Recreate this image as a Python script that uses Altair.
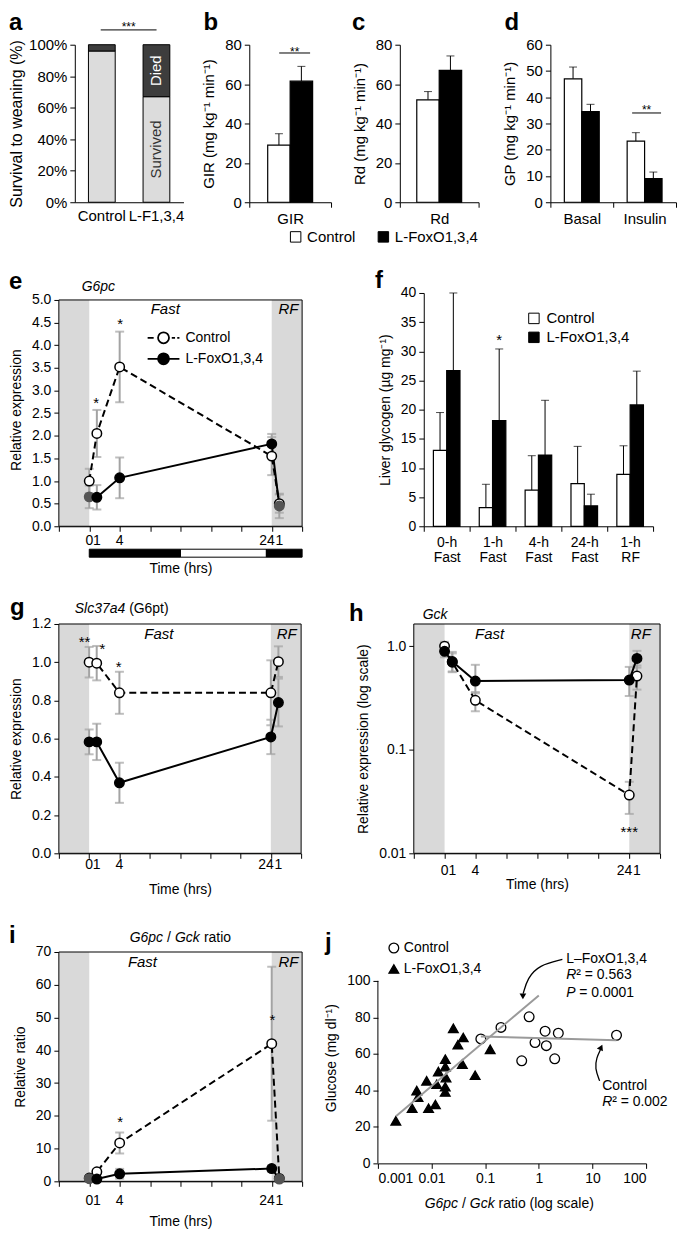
import altair as alt
import pandas as pd

FONT = "Liberation Sans"
SHADE = "#d9d9d9"
ERR = "#a3a3a3"
FIT = "#9a9a9a"

# ---------------- data ----------------
series_names = ["Control", "L-FoxO1,3,4"]

# (a) survival to weaning
a_genotypes = ["Control", "L-F1,3,4"]
a_survived = [0.96, 0.67]

# (b) GIR, (c) Rd
gir_cats = ["GIR"]
gir_ctrl, gir_ctrl_sem = [29.0], [5.8]
gir_lfox, gir_lfox_sem = [61.5], [7.5]
rd_cats = ["Rd"]
rd_ctrl, rd_ctrl_sem = [52.0], [4.2]
rd_lfox, rd_lfox_sem = [67.0], [7.3]

# (d) GP
gp_states = ["Basal", "Insulin"]
gp_ctrl = [47.0, 23.3]
gp_ctrl_sem = [4.5, 3.2]
gp_lfox = [34.5, 9.0]
gp_lfox_sem = [2.8, 2.5]

# time axis shared by e, g, h, i
time_hours = [0, 1, 4, 24, 25]
time_labels = ["0", "1", "4", "24", "1"]
time_ticks = [-4, 0, 4, 8, 12, 16, 20, 24, 28]
shade_from = [-4, 24]
shade_to = [0, 28]
cycle_from = [0, 12, 23.3]
cycle_to = [12, 23.3, 28]
cycle_phase = ["dark", "light", "dark"]

# (e) G6pc
g6pc_ctrl = [1.00, 2.05, 3.52, 1.55, 0.50]
g6pc_ctrl_sem = [0.27, 0.52, 0.78, 0.42, 0.20]
g6pc_lfox = [0.65, 0.64, 1.07, 1.82, 0.45]
g6pc_lfox_sem = [0.25, 0.27, 0.45, 0.22, 0.27]

# (f) liver glycogen
glyc_times = ["0-h Fast", "1-h Fast", "4-h Fast", "24-h Fast", "1-h RF"]
glyc_ctrl = [13.0, 3.2, 6.2, 7.3, 8.9]
glyc_ctrl_sd = [6.5, 4.0, 5.9, 6.4, 4.9]
glyc_lfox = [26.7, 18.1, 12.2, 3.5, 20.8]
glyc_lfox_sd = [13.3, 12.3, 9.4, 2.0, 5.8]

# (g) Slc37a4
slc_ctrl = [1.00, 0.995, 0.84, 0.84, 1.003]
slc_ctrl_sem = [0.08, 0.09, 0.11, 0.17, 0.08]
slc_lfox = [0.583, 0.583, 0.369, 0.609, 0.789]
slc_lfox_sem = [0.065, 0.095, 0.105, 0.09, 0.125]

# (h) Gck (log)
gck_ctrl = [1.00, 0.70, 0.30, 0.0365, 0.514]
gck_ctrl_lo = [0.88, 0.56, 0.235, 0.024, 0.38]
gck_ctrl_hi = [1.10, 0.85, 0.36, 0.049, 0.65]
gck_lfox = [0.89, 0.71, 0.46, 0.47, 0.76]
gck_lfox_lo = [0.78, 0.57, 0.35, 0.33, 0.62]
gck_lfox_hi = [1.00, 0.88, 0.66, 0.63, 0.90]

# (i) G6pc / Gck ratio
ratio_ctrl = [1.0, 2.9, 11.7, 42.0, 0.9]
ratio_ctrl_sem = [0.4, 0.8, 3.2, 23.5, 0.3]
ratio_lfox = [0.8, 0.7, 2.3, 3.9, 0.7]
ratio_lfox_sem = [0.3, 0.3, 1.5, 1.0, 0.3]

# (j) glucose vs ratio
j_ctrl_ratio = [0.083, 0.197, 0.66, 0.48, 0.85, 1.31, 1.38, 2.31, 1.98, 28.1]
j_ctrl_glucose = [68.2, 74.5, 80.3, 56.2, 66.2, 72.4, 64.5, 71.3, 57.3, 70.2]
j_lfox_ratio = [0.00216, 0.00435, 0.0053, 0.0056, 0.0081, 0.0088, 0.0118, 0.0125, 0.0134, 0.0181,
                0.0181, 0.0186, 0.018, 0.018, 0.0255, 0.031, 0.039, 0.0375, 0.065, 0.124]
j_lfox_glucose = [23.3, 30.2, 39.9, 36.3, 45.2, 30.2, 32.3, 43.4, 50.3, 57.1,
                  53.0, 47.0, 42.0, 39.1, 74.0, 65.0, 69.0, 54.4, 48.3, 62.5]
fit_lfox_x = [0.0022, 1.0]
fit_lfox_y = [26.0, 92.0]
fit_ctrl_x = [0.083, 28.0]
fit_ctrl_y = [69.5, 67.5]

# ---------------- helpers ----------------
ONE = pd.DataFrame({"k": [0]})


def V(v):
    return alt.value(v)


def XD(v):
    return alt.XDatum(v)


def YD(v):
    return alt.YDatum(v)


def note(text, x, y, size=14, style="normal", weight="normal", align="left",
         baseline="alphabetic", color="black", dx=0, dy=0):
    return alt.Chart(ONE).mark_text(
        text=text, font=FONT, fontSize=size, fontStyle=style, fontWeight=weight,
        align=align, baseline=baseline, color=color, dx=dx, dy=dy
    ).encode(x=x, y=y)


def letter(ch, x, y):
    return note(ch, V(x), V(y), size=24, weight="bold")


def hsp(w):
    return alt.Chart(ONE).mark_rect(opacity=0).encode(
        x=V(0), x2=V(w), y=V(0), y2=V(1)).properties(width=w, height=1)


def vsp(h):
    return alt.Chart(ONE).mark_rect(opacity=0).encode(
        x=V(0), x2=V(1), y=V(0), y2=V(h)).properties(width=1, height=h)


# ---------------- panel a ----------------
H1 = 158
W_A = 109
a_rows = []
for g, s in zip(a_genotypes, a_survived):
    a_rows.append({"grp": g, "part": "Survived", "y0": 0.0, "y1": s})
    a_rows.append({"grp": g, "part": "Died", "y0": s, "y1": 1.0})
a_df = pd.DataFrame(a_rows)
a_df["mid"] = (a_df["y0"] + a_df["y1"]) / 2
a_x = alt.X("grp:N", sort=a_genotypes, title=None,
            scale=alt.Scale(paddingInner=0.51, paddingOuter=0.25),
            axis=alt.Axis(ticks=False, labelAngle=0, labelFontSize=15, labelPadding=6))
a_yvals = [0, 0.2, 0.4, 0.6, 0.8, 1.0]
a_bars = alt.Chart(a_df).mark_bar(stroke="black", strokeWidth=1).encode(
    x=a_x,
    y=alt.Y("y0:Q", scale=alt.Scale(domain=[0, 1], nice=False),
            axis=alt.Axis(values=a_yvals, tickCount=len(a_yvals), format=".0%",
                          title="Survival to weaning (%)", titleFontSize=16,
                          labelFontSize=15, titlePadding=4, labelOverlap=False)),
    y2="y1:Q",
    fill=alt.Fill("part:N", scale=alt.Scale(domain=["Survived", "Died"],
                                            range=["#dcdcdc", "#3d3d3d"]), legend=None),
)
a_text = alt.Chart(a_df[a_df["grp"] == a_genotypes[1]]).mark_text(
    angle=270, fontSize=15, font=FONT).encode(
    x=a_x, y=alt.Y("mid:Q", title="Survival to weaning (%)"), text="part:N",
    color=alt.Color("part:N", scale=alt.Scale(domain=["Survived", "Died"],
                                              range=["#333333", "#ffffff"]), legend=None))
a_brk = alt.Chart(ONE).mark_rule(color="black", strokeWidth=1).encode(x=V(26), x2=V(82), y=YD(1.094))
a_star = note("***", V(54), YD(1.13), size=12, align="center", baseline="middle", dy=3)
panel_a = alt.layer(a_bars, a_text, a_brk, a_star, letter("a", -66, -15)).properties(width=W_A, height=H1)


# ---------------- bar panels b, c, d, f ----------------
def bar_panel(cats, cm, ce, lm, le, W, H, ymax, ystep, ytitle, po, legend=None, fs=15,
              label_expr=None):
    rows = []
    for c, m, e in zip(cats, cm, ce):
        rows.append({"cat": c, "series": series_names[0], "mean": m, "top": m + e})
    for c, m, e in zip(cats, lm, le):
        rows.append({"cat": c, "series": series_names[1], "mean": m, "top": m + e})
    df = pd.DataFrame(rows)
    xax = dict(tickBand="extent", labelAngle=0, labelFontSize=fs, labelPadding=4, tickSize=5)
    if label_expr:
        xax["labelExpr"] = label_expr
        xax["labelLineHeight"] = fs + 1
    x = alt.X("cat:N", sort=cats, title=None, scale=alt.Scale(paddingInner=0, paddingOuter=0),
              axis=alt.Axis(**xax))
    xo = alt.XOffset("series:N", sort=series_names, scale=alt.Scale(paddingInner=0, paddingOuter=po))
    yvals = list(range(0, ymax + 1, ystep))
    yax = alt.Axis(values=yvals, tickCount=len(yvals), title=ytitle, labelFontSize=fs,
                   titleFontSize=fs, titlePadding=8, labelOverlap=False)
    bars = alt.Chart(df).mark_bar(stroke="black", strokeWidth=1.2).encode(
        x=x, xOffset=xo,
        y=alt.Y("mean:Q", scale=alt.Scale(domain=[0, ymax], nice=False), axis=yax),
        color=alt.Color("series:N", sort=series_names,
                        scale=alt.Scale(domain=series_names, range=["white", "black"]), legend=legend))
    err = alt.Chart(df).mark_rule(color="black", strokeWidth=1).encode(
        x=x, xOffset=xo, y=alt.Y("mean:Q", title=ytitle), y2="top:Q")
    cap = alt.Chart(df).mark_tick(color="black", thickness=1, size=8).encode(
        x=x, xOffset=xo, y=alt.Y("top:Q", title=ytitle))
    return [err, cap, bars], x, xo


b_layers, _, _ = bar_panel(gir_cats, gir_ctrl, gir_ctrl_sem, gir_lfox, gir_lfox_sem,
                           82, H1, 80, 20, "GIR (mg kg⁻¹ min⁻¹)", 0.82)
panel_b = alt.layer(
    *b_layers,
    alt.Chart(ONE).mark_rule(color="black").encode(x=V(30), x2=V(61), y=YD(75.8)),
    note("**", V(45.5), YD(77.8), size=12, align="center", baseline="middle", dy=3),
    letter("b", -46, -15),
).properties(width=82, height=H1)

legend_c = alt.Legend(orient="none", legendX=-112, legendY=H1 + 27, direction="horizontal",
                      columns=2, title=None, symbolType="square", symbolSize=110,
                      symbolStrokeColor="black", symbolStrokeWidth=1, labelFontSize=15,
                      columnPadding=20, labelOffset=4)
c_layers, _, _ = bar_panel(rd_cats, rd_ctrl, rd_ctrl_sem, rd_lfox, rd_lfox_sem,
                           79, H1, 80, 20, "Rd (mg kg⁻¹ min⁻¹)", 0.755, legend=legend_c)
panel_c = alt.layer(*c_layers, letter("c", -48, -15)).properties(width=79, height=H1)

d_layers, _, _ = bar_panel(gp_states, gp_ctrl, gp_ctrl_sem, gp_lfox, gp_lfox_sem,
                           126, H1, 60, 10, "GP (mg kg⁻¹ min⁻¹)", 0.8)
panel_d = alt.layer(
    *d_layers,
    alt.Chart(ONE).mark_rule(color="black").encode(x=V(82), x2=V(111), y=YD(34.0)),
    note("**", V(96.5), YD(36.3), size=12, align="center", baseline="middle", dy=3),
    letter("d", -46, -15),
).properties(width=126, height=H1)

H2 = 234
legend_f = alt.Legend(orient="none", legendX=103, legendY=18, title=None, symbolType="square",
                      symbolSize=110, symbolStrokeColor="black", symbolStrokeWidth=1,
                      labelFontSize=15, rowPadding=3, labelOffset=5)
f_layers, f_x, f_xo = bar_panel(glyc_times, glyc_ctrl, glyc_ctrl_sd, glyc_lfox, glyc_lfox_sd,
                                230, H2, 40, 5, "Liver glycogen (µg mg⁻¹)", 0.725, legend=legend_f,
                                fs=14, label_expr="split(datum.label, ' ')")
f_star_df = pd.DataFrame({"cat": ["1-h Fast"], "series": [series_names[1]], "y": [32.4]})
f_star = alt.Chart(f_star_df).mark_text(text="*", font=FONT, fontSize=15, baseline="middle", dy=3).encode(
    x=f_x, xOffset=f_xo, y=alt.Y("y:Q", title="Liver glycogen (µg mg⁻¹)"))
panel_f = alt.layer(*f_layers, f_star, letter("f", -49, -5)).properties(width=230, height=H2)

# ---------------- time-course panels ----------------
PATH_CTRL = ("M-2.9,0L-1.8,0M1.5,0L2.1,0M2.5,0L2.9,0"
             "M1,0A1,1,0,1,1,-1,0A1,1,0,1,1,1,0Z")
PATH_LFOX = "M-2.9,0L-1,0M1,0L2.9,0M1,0A1,1,0,1,1,-1,0A1,1,0,1,1,1,0Z"


def time_panel(W, H, ydom, frame_top, ylog, yvals, ytitle, c_v, c_lo, c_hi, l_v, l_lo, l_hi,
               stars, fast_at, rf_at, let, let_at, heading, label_off, xtitle_pad,
               yfmt=None, ylabelexpr=None, legend=False, cycle=False, gray_ends=False):
    xs = alt.Scale(domain=[-4, 28], nice=False, zero=False)
    if ylog:
        ys = alt.Scale(type="log", domain=ydom, nice=False)
    else:
        ys = alt.Scale(domain=ydom, nice=False, zero=False)
    yax = dict(values=yvals, tickCount=len(yvals), domain=False, title=ytitle, titlePadding=8,
               labelOverlap=False)
    if yfmt:
        yax["format"] = yfmt
    if ylabelexpr:
        yax["labelExpr"] = ylabelexpr
    XT = "Time (hrs)"
    shade_df = pd.DataFrame({"x0": shade_from, "x1": shade_to,
                             "y0": [ydom[0]] * len(shade_from), "y1": [frame_top] * len(shade_from)})
    layers = [alt.Chart(shade_df).mark_rect(fill=SHADE).encode(
        x=alt.X("x0:Q", scale=xs, axis=alt.Axis(values=time_ticks, tickCount=len(time_ticks), labels=False,
                                                title=XT, titlePadding=xtitle_pad, tickSize=5)),
        x2="x1:Q",
        y=alt.Y("y0:Q", scale=ys, axis=alt.Axis(**yax)),
        y2="y1:Q")]
    frame_df = pd.DataFrame({"x0": [-4], "x1": [28], "y0": [ydom[0]], "y1": [frame_top]})
    layers.append(alt.Chart(frame_df).mark_rect(fillOpacity=0, stroke="black", strokeWidth=1).encode(
        x=alt.X("x0:Q", title=XT), x2="x1:Q", y=alt.Y("y0:Q", title=ytitle), y2="y1:Q"))
    cdf = pd.DataFrame({"t": time_hours, "v": c_v, "lo": c_lo, "hi": c_hi})
    ldf = pd.DataFrame({"t": time_hours, "v": l_v, "lo": l_lo, "hi": l_hi})
    both = pd.concat([cdf, ldf], ignore_index=True)
    X = alt.X("t:Q", title=XT)
    Y = alt.Y("v:Q", title=ytitle)
    layers.append(alt.Chart(both).mark_errorbar(ticks=True, size=9, thickness=2, color=ERR).encode(
        x=X, y=alt.Y("lo:Q", title=ytitle), y2="hi:Q"))
    layers.append(alt.Chart(cdf).mark_line(color="black", strokeWidth=2, strokeDash=[7, 4]).encode(x=X, y=Y))
    layers.append(alt.Chart(ldf).mark_line(color="black", strokeWidth=2).encode(x=X, y=Y))
    layers.append(alt.Chart(cdf).mark_point(shape="circle", filled=True, fill="white", stroke="black",
                                            strokeWidth=1.5, size=90, opacity=1).encode(x=X, y=Y))
    if gray_ends:
        tone = alt.condition("datum.t <= 0 || datum.t >= 25", alt.value("#555555"), alt.value("black"))
        layers.append(alt.Chart(ldf).mark_point(shape="circle", filled=True, strokeWidth=1.5, size=90,
                                                opacity=1).encode(x=X, y=Y, fill=tone, stroke=tone))
    else:
        layers.append(alt.Chart(ldf).mark_point(shape="circle", filled=True, fill="black", stroke="black",
                                                strokeWidth=1.5, size=90, opacity=1).encode(x=X, y=Y))
    sdf = pd.DataFrame({"t": [s[0] for s in stars], "y": [s[1] for s in stars], "s": [s[2] for s in stars]})
    layers.append(alt.Chart(sdf).mark_text(font=FONT, fontSize=15, baseline="middle", dy=3).encode(
        x=X, y=alt.Y("y:Q", title=ytitle), text="s:N"))
    layers.append(note("Fast", XD(fast_at[0]), YD(fast_at[1]), size=15, style="italic",
                       align="center", baseline="middle"))
    layers.append(note("RF", XD(rf_at[0]), YD(rf_at[1]), size=15, style="italic",
                       align="center", baseline="middle"))
    xl = pd.DataFrame({"t": time_hours, "lab": time_labels})
    layers.append(alt.Chart(xl).transform_filter("datum.lab != '24'").mark_text(
        font=FONT, fontSize=14, baseline="alphabetic").encode(x=X, y=V(H + label_off), text="lab:N"))
    layers.append(alt.Chart(xl).transform_filter("datum.lab == '24'").mark_text(
        font=FONT, fontSize=14, baseline="alphabetic", align="right", dx=3).encode(
        x=X, y=V(H + label_off), text="lab:N"))
    layers.append(letter(let, let_at[0], let_at[1]))
    for (tx, xp, yp, st) in heading:
        layers.append(note(tx, V(xp), V(yp), size=14, style=st))
    if cycle:
        cyc = pd.DataFrame({"x0": cycle_from, "x1": cycle_to, "phase": cycle_phase})
        layers.append(alt.Chart(cyc).mark_rect(stroke="black", strokeWidth=1).encode(
            x=alt.X("x0:Q", title=XT), x2="x1:Q", y=V(H + 23), y2=V(H + 31),
            color=alt.Color("phase:N", scale=alt.Scale(domain=["dark", "light"], range=["black", "white"]),
                            legend=None)))
    if legend:
        leg = alt.Legend(orient="none", legendX=98, legendY=38, title=None, symbolSize=121,
                         symbolStrokeColor="black", symbolStrokeWidth=1.8, labelFontSize=14,
                         labelOffset=15, rowPadding=1)
        ldf2 = pd.DataFrame({"series": series_names, "t": [0, 0], "v": [1, 1]})
        layers.append(alt.Chart(ldf2).transform_filter("false").mark_point(
            filled=True, strokeWidth=1.8, size=121, opacity=1).encode(
            x=X, y=Y,
            shape=alt.Shape("series:N", sort=series_names,
                            scale=alt.Scale(domain=series_names, range=[PATH_CTRL, PATH_LFOX]), legend=leg),
            fill=alt.Fill("series:N", sort=series_names,
                          scale=alt.Scale(domain=series_names, range=["white", "black"]), legend=leg),
            stroke=alt.Stroke("series:N", sort=series_names,
                              scale=alt.Scale(domain=series_names, range=["black", "black"]), legend=leg)))
    return alt.layer(*layers).properties(width=W, height=H)


def lohi(v, e):
    return [a - b for a, b in zip(v, e)], [a + b for a, b in zip(v, e)]


E_TOP = 5.0 * H2 / 227.0
c_lo, c_hi = lohi(g6pc_ctrl, g6pc_ctrl_sem)
l_lo, l_hi = lohi(g6pc_lfox, g6pc_lfox_sem)
panel_e = time_panel(
    244, H2, [0, E_TOP], 5.0, False, [0, 0.5, 1, 1.5, 2, 2.5, 3, 3.5, 4, 4.5, 5], "Relative expression",
    g6pc_ctrl, c_lo, c_hi, g6pc_lfox, l_lo, l_hi,
    [(0.9, 2.78, "*"), (4.07, 4.53, "*")], (10, 4.8), (26.2, 4.8),
    "e", (-50, -4), [("G6pc", 23, -2, "italic")], 19, 30, yfmt=".1f", legend=True, cycle=True,
    gray_ends=True)

H3 = 230
c_lo, c_hi = lohi(slc_ctrl, slc_ctrl_sem)
l_lo, l_hi = lohi(slc_lfox, slc_lfox_sem)
panel_g = time_panel(
    243, H3, [0, 1.2], 1.2, False, [0, 0.2, 0.4, 0.6, 0.8, 1.0, 1.2], "Relative expression",
    slc_ctrl, c_lo, c_hi, slc_lfox, l_lo, l_hi,
    [(-0.6, 1.12, "**"), (1.75, 1.087, "*"), (3.9, 0.99, "*")], (9.2, 1.149), (26.1, 1.149),
    "g", (-49, -9), [("Slc37a4", 16, -11, "italic"), ("(G6pt)", 70.5, -11, "normal")], 16, 24, yfmt=".1f")

panel_h = time_panel(
    247, H3, [0.01, 1.635], 1.635, True, [0.01, 0.1, 1], "Relative expression (log scale)",
    gck_ctrl, gck_ctrl_lo, gck_ctrl_hi, gck_lfox, gck_lfox_lo, gck_lfox_hi,
    [(24, 0.0172, "***")], (5.85, 1.315), (25.5, 1.315),
    "h", (-65, -3), [("Gck", 9, -5, "italic")], 22, 19,
    ylabelexpr="datum.value >= 1 ? '1.0' : datum.value >= 0.1 ? '0.1' : '0.01'")

H4 = 230
c_lo, c_hi = lohi(ratio_ctrl, ratio_ctrl_sem)
l_lo, l_hi = lohi(ratio_lfox, ratio_lfox_sem)
panel_i = time_panel(
    244, H4, [0, 70], 70, False, [0, 10, 20, 30, 40, 50, 60, 70], "Relative ratio",
    ratio_ctrl, c_lo, c_hi, ratio_lfox, l_lo, l_hi,
    [(4.07, 19.1, "*"), (24.1, 50.2, "*")], (7.0, 67), (26.2, 67),
    "i", (-50, -9),
    [("G6pc", 71, -10, "italic"), ("/", 108.5, -10, "normal"), ("Gck", 116.5, -10, "italic"),
     ("ratio", 145.5, -10, "normal")], 24, 28, yfmt="d", gray_ends=True)

# ---------------- panel j ----------------
J_TOP = 115.8
W_J = 269
H_J = 212
JT = "Glucose (mg dl⁻¹)"
j_xvals = [0.001, 0.01, 0.1, 1, 10, 100]
j_yvals = [0, 20, 40, 60, 80, 100]
jx = alt.Scale(type="log", domain=[0.001, 100], nice=False)
jy = alt.Scale(domain=[0, J_TOP], nice=False, zero=False)
jdf = pd.DataFrame({
    "ratio": j_ctrl_ratio + j_lfox_ratio,
    "glucose": j_ctrl_glucose + j_lfox_glucose,
    "series": [series_names[0]] * len(j_ctrl_ratio) + [series_names[1]] * len(j_lfox_ratio)})
jleg = alt.Legend(orient="none", legendX=9, legendY=-11, title=None, symbolSize=95,
                  symbolStrokeColor="black", symbolStrokeWidth=1.3, labelFontSize=14,
                  rowPadding=6, labelOffset=3)
j_pts = alt.Chart(jdf).mark_point(filled=True, size=95, strokeWidth=1.3, opacity=1).encode(
    x=alt.X("ratio:Q", scale=jx, axis=alt.Axis(values=j_xvals, tickCount=len(j_xvals), format="~g",
                                               title=None, tickSize=5, labelOverlap=False)),
    y=alt.Y("glucose:Q", scale=jy, axis=alt.Axis(values=j_yvals, tickCount=len(j_yvals), domain=False,
                                                 title=JT, titlePadding=8, labelOverlap=False)),
    shape=alt.Shape("series:N", sort=series_names,
                    scale=alt.Scale(domain=series_names, range=["circle", "triangle-up"]), legend=jleg),
    fill=alt.Fill("series:N", sort=series_names,
                  scale=alt.Scale(domain=series_names, range=["white", "black"]), legend=jleg),
    stroke=alt.Stroke("series:N", sort=series_names,
                      scale=alt.Scale(domain=series_names, range=["black", "black"]), legend=jleg))
j_axisline = alt.Chart(ONE).mark_rule(color="black", strokeWidth=1).encode(
    x=XD(0.001), y=YD(0), y2=alt.Y2Datum(100))
fit_df = pd.DataFrame({"x": fit_lfox_x + fit_ctrl_x, "y": fit_lfox_y + fit_ctrl_y,
                       "fit": ["lfox"] * 2 + ["ctrl"] * 2})
j_fit = alt.Chart(fit_df).mark_line(color=FIT, strokeWidth=2).encode(
    x=alt.X("x:Q", title=None), y=alt.Y("y:Q", title=JT), detail="fit:N")
arrow_df = pd.DataFrame({
    "x": [2.75, 1.01, 0.614, 0.511, 13.6, 11.1, 11.9, 14.2],
    "y": [111.7, 108.6, 101.4, 93.0, 45.2, 52.1, 57.8, 62.5],
    "arrow": ["a1"] * 4 + ["a2"] * 4, "o": [0, 1, 2, 3, 0, 1, 2, 3]})
j_arrows = alt.Chart(arrow_df).mark_line(color="black", strokeWidth=1.3, interpolate="basis").encode(
    x=alt.X("x:Q", title=None), y=alt.Y("y:Q", title=JT), detail="arrow:N", order="o:Q")
j_head1 = alt.Chart(ONE).mark_point(shape="triangle-down", filled=True, color="black", size=45,
                                    opacity=1).encode(x=XD(0.505), y=YD(91.5))
j_head2 = alt.Chart(ONE).mark_point(shape="triangle-up", filled=True, color="black", size=45,
                                    opacity=1, angle=25).encode(x=XD(14.5), y=YD(63.6))
j_texts = [
    note("L–FoxO1,3,4", XD(3.26), YD(109.7), size=14),
    note("R", XD(3.26), YD(101.1), size=14, style="italic"),
    note("² = 0.563", XD(3.26), YD(101.1), size=14, dx=10),
    note("P", XD(3.26), YD(91.4), size=14, style="italic"),
    note("= 0.0001", XD(3.26), YD(91.4), size=14, dx=13),
    note("Control", XD(15.2), YD(40.3), size=14),
    note("R", XD(15.2), YD(31.2), size=14, style="italic"),
    note("² = 0.002", XD(15.2), YD(31.2), size=14, dx=10),
    note("G6pc", V(47), V(H_J + 45), size=14, style="italic"),
    note("/", V(84.4), V(H_J + 45), size=14),
    note("Gck", V(92.2), V(H_J + 45), size=14, style="italic"),
    note("ratio (log scale)", V(121), V(H_J + 45), size=14),
    letter("j", -53, -2),
]
panel_j = alt.layer(j_pts, j_axisline, j_fit, j_arrows, j_head1, j_head2, *j_texts).properties(
    width=W_J, height=H_J)

# ---------------- layout ----------------
RES_S = dict(color="independent", fill="independent", shape="independent", stroke="independent",
             xOffset="independent")
RES_L = dict(color="independent", fill="independent", shape="independent", stroke="independent")


def row(*charts):
    return alt.hconcat(*charts, spacing=0, bounds="flush").resolve_scale(**RES_S).resolve_legend(**RES_L)


row1 = row(hsp(16), panel_a, hsp(66), panel_b, hsp(69), panel_c, hsp(72), panel_d)
row2 = row(panel_e, hsp(122), panel_f)
row3 = row(panel_g, hsp(113), panel_h)
row4 = row(panel_i, hsp(76), panel_j)

chart = alt.vconcat(row1, vsp(20), row2, vsp(17), row3, vsp(24), row4, spacing=0).resolve_scale(
    **RES_S).resolve_legend(**RES_L).properties(padding=0).configure(font=FONT).configure_view(
    stroke="transparent").configure_axis(
    domainColor="black", tickColor="black", labelColor="black", titleColor="black",
    labelFont=FONT, titleFont=FONT, labelFontSize=14, titleFontSize=14, titleFontWeight="normal",
    tickSize=5, grid=False, labelPadding=3, domainWidth=1, tickWidth=1, labelOverlap=False).configure_legend(
    labelFont=FONT, labelFontSize=14, labelColor="black")

chart.save("out.html", embed_options={"renderer": "svg", "actions": False})
